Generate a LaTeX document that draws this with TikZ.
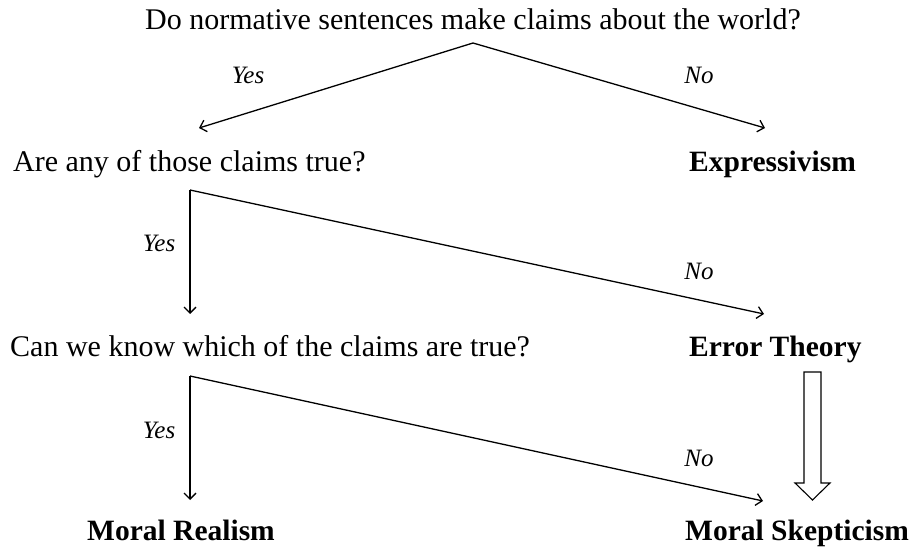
\documentclass[tikz,border=0pt]{standalone}
\usepackage{fontspec}
\setmainfont{Liberation Serif}
\usetikzlibrary{arrows.meta,positioning,calc}

\begin{document}
\begin{tikzpicture}[x=1pt, y=-1pt,
    question/.style={anchor=base west, inner sep=0pt, font=\fontsize{30}{35}\selectfont},
    verdict/.style={anchor=base west, inner sep=0pt, font=\fontsize{29.5}{34}\selectfont\bfseries},
    answer/.style={anchor=base, inner sep=0pt, font=\fontsize{25}{29}\selectfont\itshape},
    branch/.style={line width=1.3pt, line join=miter, -{Straight Barb[length=6pt,width=12pt]}}]
  \useasboundingbox (0,0) rectangle (914,548);

  % questions
  \node[question, anchor=base] (q1) at (473,30) {Do normative sentences make claims about the world?};
  \node[question] (q2) at (13,172) {Are any of those claims true?};
  \node[question] (q3) at (10,357) {Can we know which of the claims are true?};

  % outcomes
  \node[verdict] (expr) at (689,172) {Expressivism};
  \node[verdict] (err) at (689,357) {Error Theory};
  \node[verdict] (real) at (87,540) {Moral Realism};
  \node[verdict] (skep) at (685,540) {Moral Skepticism};

  % split points and arrow ends
  \coordinate (s1) at (473,43);
  \coordinate (s2) at (190,190);
  \coordinate (s3) at (190,376);
  \coordinate (q2in) at (199,128);
  \coordinate (exprin) at (765,128);
  \coordinate (q3in) at (190,314);
  \coordinate (errin) at (764,314);
  \coordinate (realin) at (190,500);
  \coordinate (skepin) at (763,501);

  \draw[branch] (s1) -- (q2in);
  \draw[branch] (s1) -- (exprin);
  \draw[branch] (s2) -- (q3in);
  \draw[branch] (s2) -- (errin);
  \draw[branch] (s3) -- (realin);
  \draw[branch] (s3) -- (skepin);

  \node[answer] (y1) at (248,84) {Yes};
  \node[answer] (n1) at (699,84) {No};
  \node[answer] (y2) at (159,252) {Yes};
  \node[answer] (n2) at (699,280) {No};
  \node[answer] (y3) at (159,438) {Yes};
  \node[answer] (n3) at (699,466) {No};

  % error theory leads to skepticism
  \draw[line width=1.1pt, line join=miter] (804,372) -- (821,372) -- (821,483) -- (830,483)
    -- (812.5,500) -- (795,483) -- (804,483) -- cycle;
\end{tikzpicture}
\end{document}
